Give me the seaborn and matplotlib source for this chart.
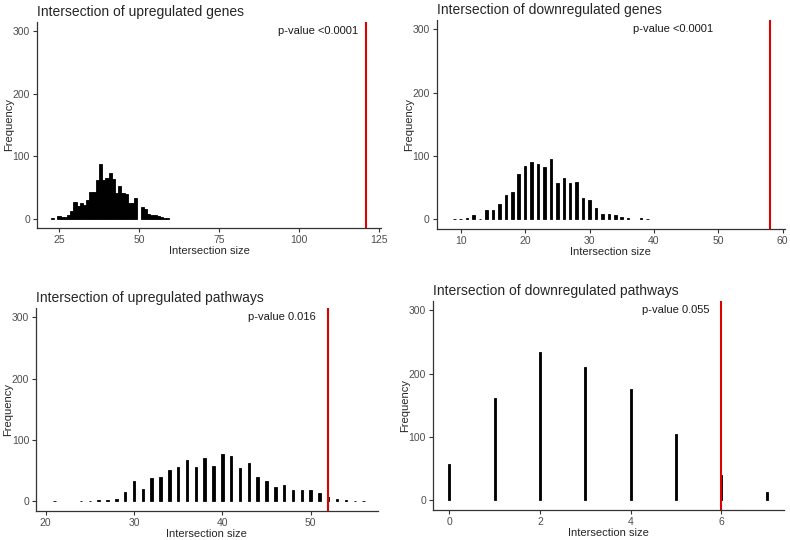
import matplotlib
matplotlib.use("Agg")
import matplotlib.pyplot as plt
import seaborn as sns

# Panel data: intersection size -> frequency
up_genes_size = list(range(23, 60))
up_genes_freq = [1, 0, 4, 2, 3, 6, 13, 27, 20, 25, 22, 30, 42, 42, 62, 88, 62, 65, 73, 64,
                 41, 52, 41, 40, 25, 25, 33, 0, 18, 16, 8, 6, 6, 5, 2, 1, 1]

down_genes_size = list(range(9, 40))
down_genes_freq = [1, 1, 2, 6, 1, 15, 14, 24, 39, 43, 71, 84, 91, 88, 82, 95, 57, 65, 58, 59,
                   34, 31, 17, 9, 9, 6, 3, 2, 0, 2, 1]

up_path_size = list(range(21, 57))
up_path_freq = [1, 0, 0, 1, 1, 2, 3, 4, 16, 34, 21, 38, 40, 52, 56, 67, 56, 70, 57, 78,
                74, 55, 63, 40, 34, 23, 27, 19, 19, 18, 13, 7, 4, 3, 1, 1]

down_path_size = [0, 1, 2, 3, 4, 5, 6, 7]
down_path_freq = [58, 162, 234, 211, 176, 105, 41, 14]

titles = ["Intersection of upregulated genes", "Intersection of downregulated genes",
          "Intersection of upregulated pathways", "Intersection of downregulated pathways"]
observed = [121, 58, 52, 6]
pvalues = ["p-value <0.0001", "p-value <0.0001", "p-value 0.016", "p-value 0.055"]
text_x = [106, 43, 46.8, 5.0]

sns.set_theme(style="ticks")
plt.rcParams["font.family"] = ["Liberation Sans", "DejaVu Sans"]

fig = plt.figure(figsize=(7.9, 5.4), dpi=100)

axes_pos = [[0.0468, 0.5778, 0.4354, 0.3815],
            [0.5528, 0.5765, 0.4409, 0.3865],
            [0.0456, 0.0543, 0.4325, 0.3754],
            [0.5481, 0.0556, 0.4443, 0.3870]]
xlims = [(18.1, 125.6), (6.27, 60.36), (18.9, 57.6), (-0.36, 7.38)]
xticks = [[25, 50, 75, 100, 125], [10, 20, 30, 40, 50, 60], [20, 30, 40, 50], [0, 2, 4, 6]]
shrinks = [1.0, 0.39, 0.28, 0.042]

data = [(up_genes_size, up_genes_freq), (down_genes_size, down_genes_freq),
        (up_path_size, up_path_freq), (down_path_size, down_path_freq)]

for i in range(4):
    ax = fig.add_axes(axes_pos[i])
    sizes, freqs = data[i]
    sns.histplot(x=sizes, weights=freqs, discrete=True, shrink=shrinks[i],
                 color="black", edgecolor="black", linewidth=0.6, alpha=1, ax=ax)
    # empty bins are not drawn
    for p in ax.patches:
        if p.get_height() == 0:
            p.set_visible(False)
    ax.axvline(observed[i], color="#dd0000", lw=1.5)
    ax.text(text_x[i], 300, pvalues[i], ha="center", va="center", fontsize=8, color="#1a1a1a")
    ax.set_xlim(*xlims[i])
    ax.set_ylim(-15, 315)
    ax.set_xticks(xticks[i])
    ax.set_yticks([0, 100, 200, 300])
    ax.set_xlabel("Intersection size", fontsize=8, labelpad=1)
    ax.set_ylabel("Frequency", fontsize=8)
    ax_w = axes_pos[i][2] * 790
    ax.yaxis.set_label_coords(-23 / ax_w, 0.5)
    ax.set_title(titles[i], loc="left", fontsize=10, pad=4)
    ax.tick_params(labelsize=7.5, colors="#333333", labelcolor="#4d4d4d", length=3, width=0.8, pad=2)
    sns.despine(ax=ax)
    for side in ["left", "bottom"]:
        ax.spines[side].set_linewidth(0.9)
        ax.spines[side].set_color("#333333")

fig.savefig("out.png", dpi=100)
